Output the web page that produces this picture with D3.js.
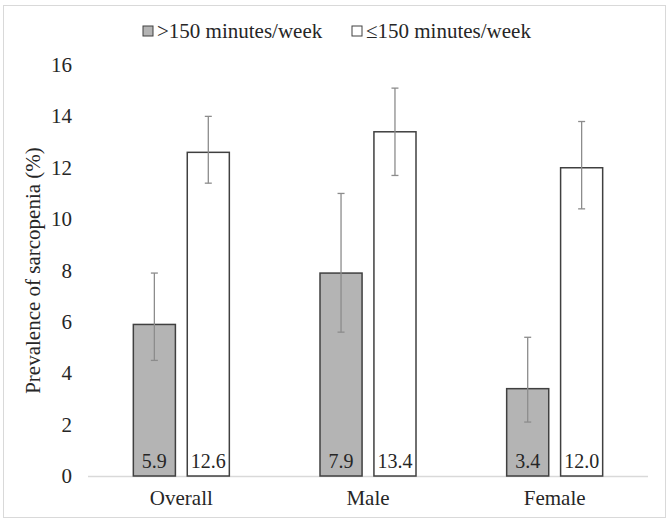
<!DOCTYPE html>
<html><head><meta charset="utf-8">
<script src="https://cdn.jsdelivr.net/npm/d3@7"></script>
<style>body{margin:0;background:#fff}svg{display:block}</style>
</head><body><svg id="c" width="669" height="522"></svg>
<script>
const categories = ["Overall", "Male", "Female"];
const seriesNames = [">150 minutes/week", "\u2264150 minutes/week"];
const high = [5.9, 7.9, 3.4];
const highLow = [4.5, 5.6, 2.1];
const highHigh = [7.9, 11.0, 5.4];
const low = [12.6, 13.4, 12.0];
const lowLow = [11.4, 11.7, 10.4];
const lowHigh = [14.0, 15.1, 13.8];
const yTicks = [0, 2, 4, 6, 8, 10, 12, 14, 16];
const fills = ["#b4b4b4", "#ffffff"];

(function () {
const svg = d3.select("#c");
const txt = "#262626";
const FF = "'Liberation Serif'";
function T(sel, size) {
  return sel.style("font-family", FF).attr("font-size", size).attr("fill", txt);
}
svg.append("rect").attr("x", 3.5).attr("y", 5.5).attr("width", 662).attr("height", 512)
  .attr("fill", "#fff").attr("stroke", "#d9d9d9").attr("stroke-width", 1);

const mLeft = 88, mRight = 648, mTop = 65, mBottom = 476;
const x = d3.scaleBand().domain(categories).range([mLeft, mRight]);
const y = d3.scaleLinear().domain([0, 16]).range([mBottom, mTop]);
const sub = d3.scaleBand().domain([0, 1]).range([-48, 48]).paddingInner(0.22);

T(svg.selectAll(".yt").data(yTicks).enter().append("text")
  .attr("x", 72).attr("y", d => y(d) + 7).attr("text-anchor", "end"), 21).text(d => d);

svg.append("line").attr("x1", mLeft).attr("x2", mRight).attr("y1", mBottom + 0.5).attr("y2", mBottom + 0.5)
  .attr("stroke", "#d9d9d9").attr("stroke-width", 1.5);

const series = [
  {v: high, lo: highLow, hi: highHigh},
  {v: low, lo: lowLow, hi: lowHigh}
];
series.forEach((s, si) => {
  const g = svg.append("g");
  categories.forEach((c, i) => {
    const cx = x(c) + x.bandwidth() / 2;
    const bx = cx + sub(si);
    const bw = sub.bandwidth();
    g.append("rect").attr("x", bx).attr("y", y(s.v[i])).attr("width", bw)
      .attr("height", y(0) - y(s.v[i])).attr("fill", fills[si])
      .attr("stroke", "#404040").attr("stroke-width", 1.5);
    const ex = bx + bw / 2;
    g.append("line").attr("x1", ex).attr("x2", ex).attr("y1", y(s.hi[i])).attr("y2", y(s.lo[i]))
      .attr("stroke", "#8c8c8c").attr("stroke-width", 1.3);
    [s.hi[i], s.lo[i]].forEach(v => {
      g.append("line").attr("x1", ex - 3.5).attr("x2", ex + 3.5).attr("y1", y(v)).attr("y2", y(v))
        .attr("stroke", "#8c8c8c").attr("stroke-width", 1.3);
    });
    T(g.append("text").attr("x", ex).attr("y", y(0) - 8).attr("text-anchor", "middle"), 20)
      .text(s.v[i].toFixed(1));
  });
});

T(svg.selectAll(".cl").data(categories).enter().append("text")
  .attr("x", d => x(d) + x.bandwidth() / 2).attr("y", 505).attr("text-anchor", "middle"), 21)
  .text(d => d);

T(svg.append("text").attr("transform", "translate(40," + ((mTop + mBottom) / 2) + ") rotate(-90)")
  .attr("text-anchor", "middle"), 21).text("Prevalence of sarcopenia (%)");

const legX = [143, 352];
seriesNames.forEach((n, i) => {
  svg.append("rect").attr("x", legX[i]).attr("y", 26).attr("width", 10).attr("height", 10)
    .attr("fill", fills[i]).attr("stroke", "#404040").attr("stroke-width", 1);
  T(svg.append("text").attr("x", legX[i] + 14).attr("y", 38), 21).text(n);
});
})();
</script></body></html>
